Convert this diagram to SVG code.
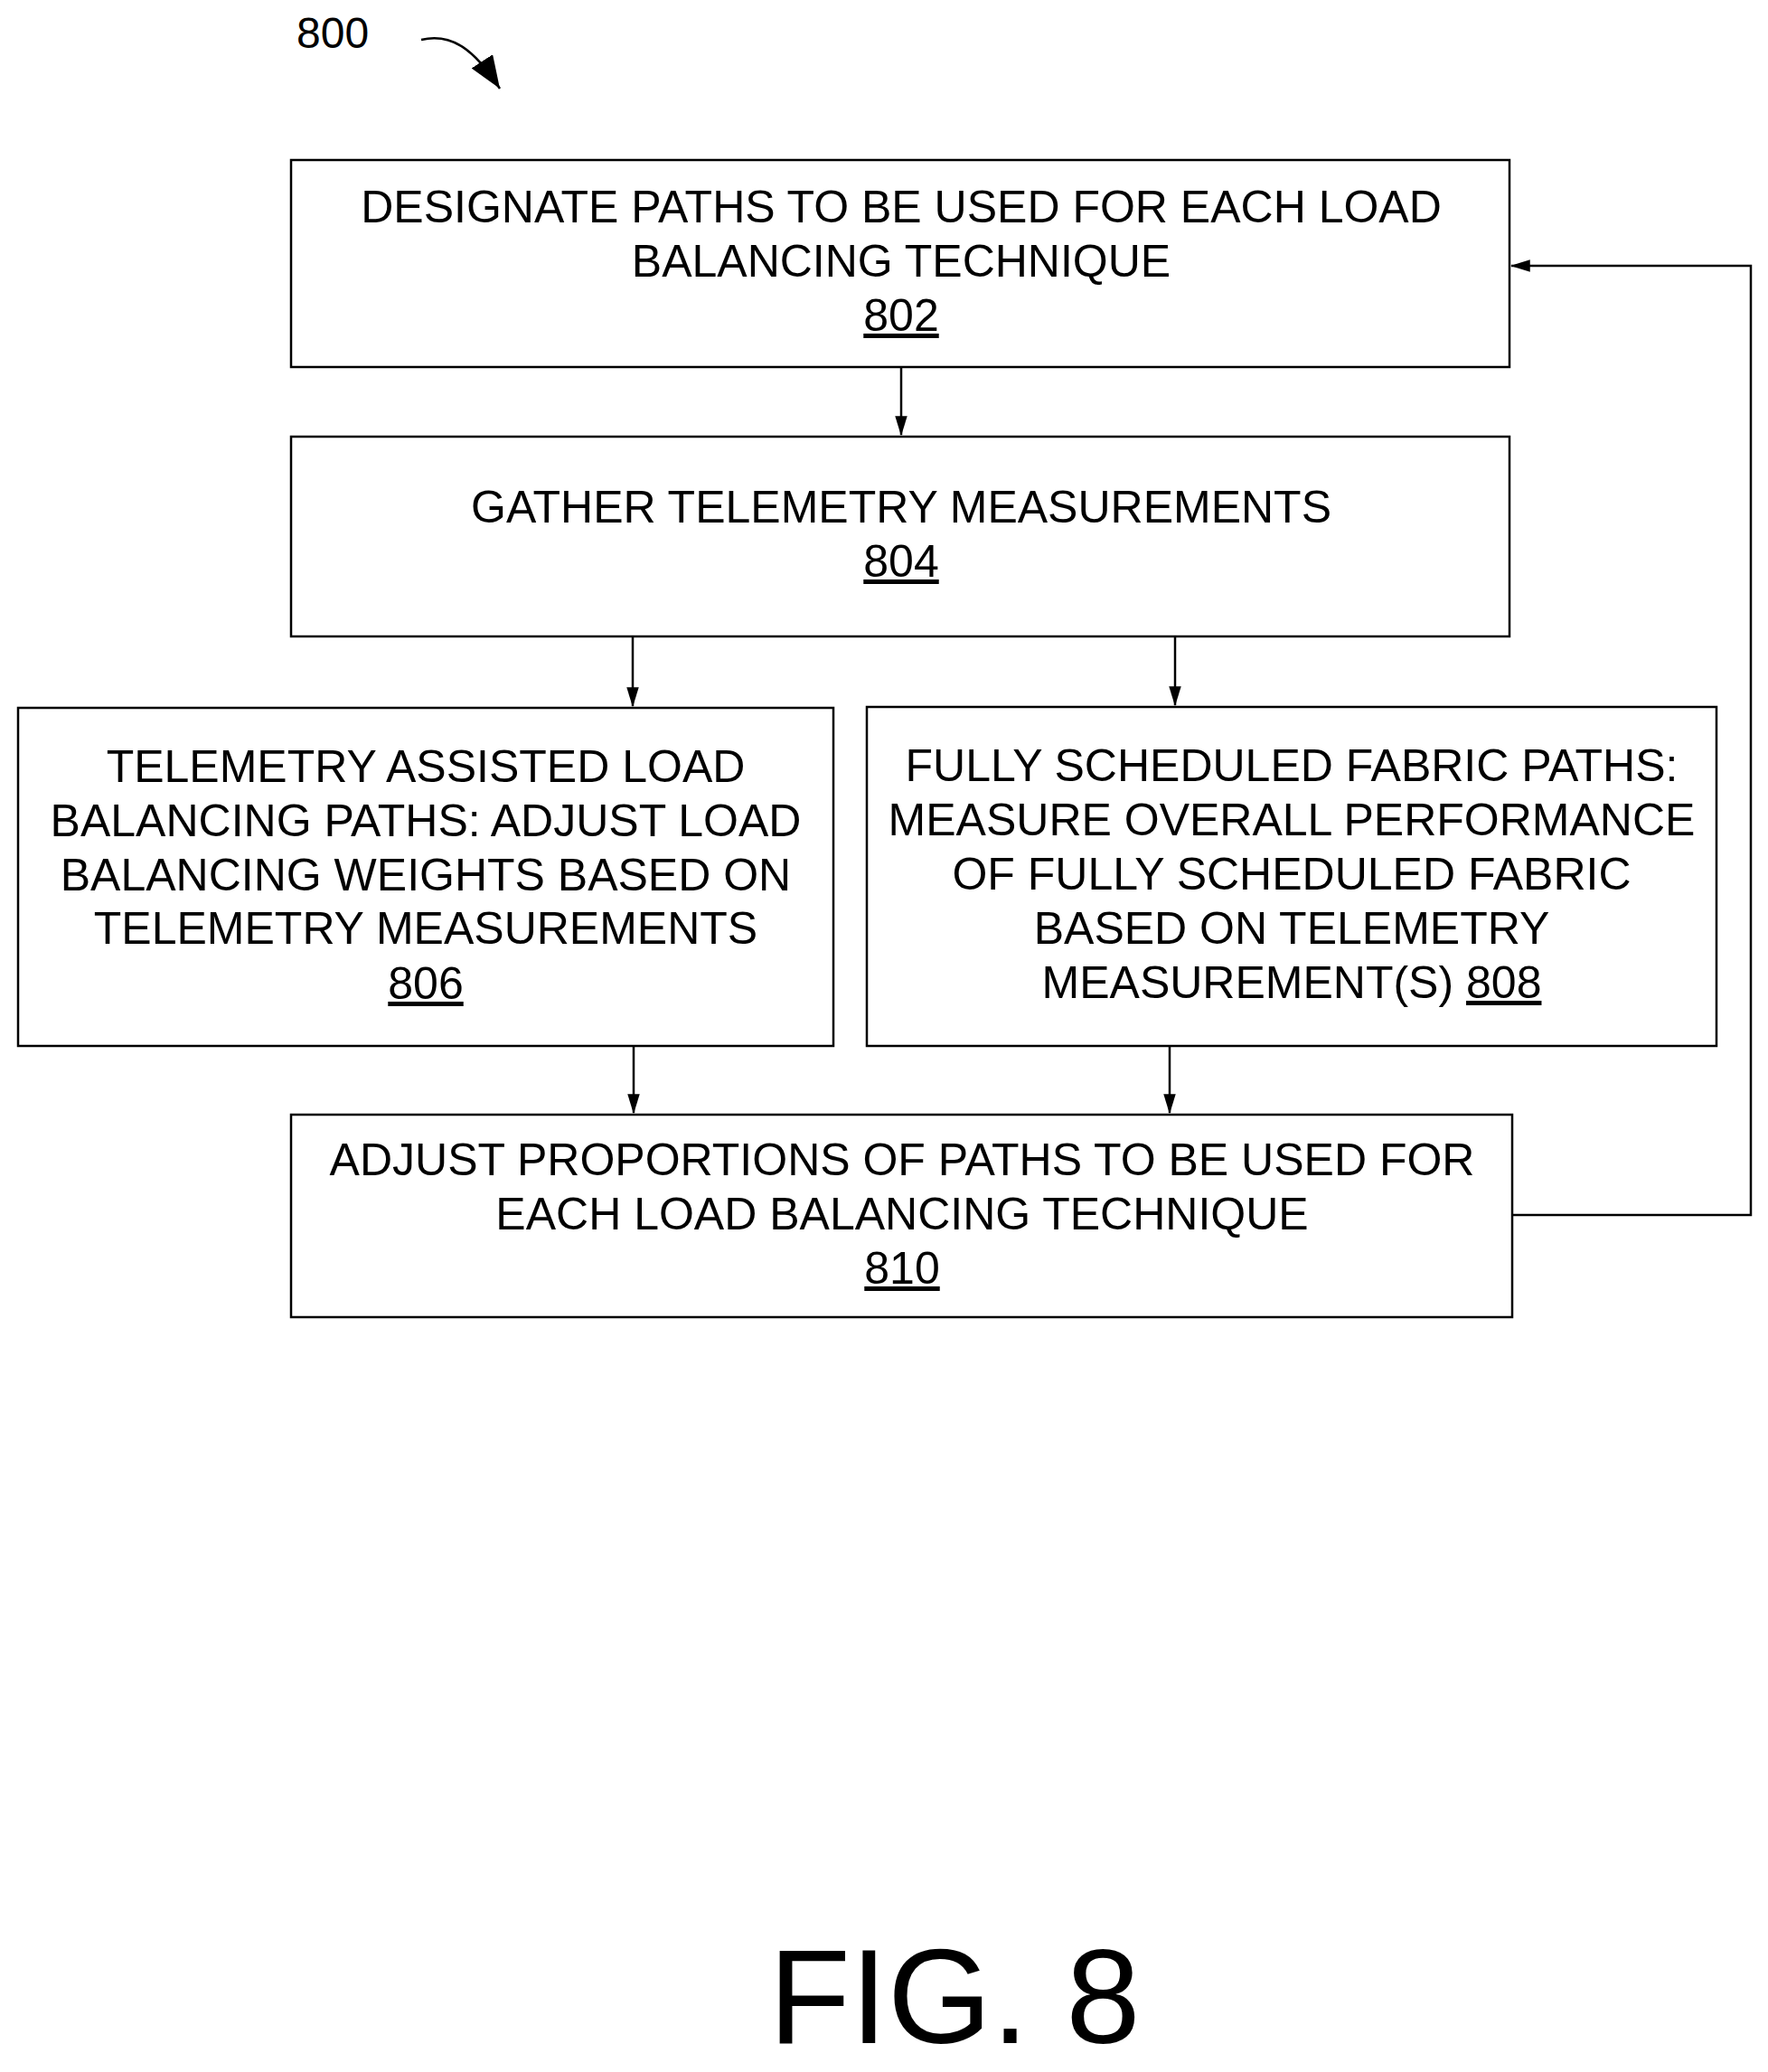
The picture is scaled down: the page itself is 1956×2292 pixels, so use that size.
<svg xmlns="http://www.w3.org/2000/svg" width="1956" height="2292" viewBox="0 0 1956 2292">
<style>
.b{fill:#fff;stroke:#000;stroke-width:2.5}
.t{font-family:"Liberation Sans",Arial,sans-serif;font-size:50px;text-anchor:middle;fill:#000}
.c{fill:none;stroke:#000;stroke-width:2.5}
</style>
<defs><marker id="a" markerWidth="22" markerHeight="36" refX="34" refY="11" orient="auto" markerUnits="userSpaceOnUse" viewBox="0 0 36 22"><path d="M0,0 L36,11 L0,22 z" fill="#000"/></marker>
<marker id="ah" markerWidth="36" markerHeight="28" refX="36" refY="14" orient="auto" markerUnits="userSpaceOnUse"><path d="M0,0 L36,14 L0,28 z" fill="#000"/></marker></defs>
<rect width="1956" height="2292" fill="#fff"/>
<text x="328" y="53" font-family="Liberation Sans,Arial,sans-serif" font-size="48">800</text>
<path d="M466,44 C500,36 525,55 553,98" class="c" marker-end="url(#ah)"/>
<g id="n802"><rect class="b" x="322" y="177" width="1348" height="229"/>
<text class="t" x="997" y="246">DESIGNATE PATHS TO BE USED FOR EACH LOAD</text>
<text class="t" x="997" y="306">BALANCING TECHNIQUE</text>
<text class="t" x="997" y="366" text-decoration="underline">802</text></g>
<g id="n804"><rect class="b" x="322" y="483" width="1348" height="221"/>
<text class="t" x="997" y="578">GATHER TELEMETRY MEASUREMENTS</text>
<text class="t" x="997" y="638" text-decoration="underline">804</text></g>
<g id="n806"><rect class="b" x="20" y="783" width="902" height="374"/>
<text class="t" x="471" y="865">TELEMETRY ASSISTED LOAD</text>
<text class="t" x="471" y="925">BALANCING PATHS: ADJUST LOAD</text>
<text class="t" x="471" y="985">BALANCING WEIGHTS BASED ON</text>
<text class="t" x="471" y="1044">TELEMETRY MEASUREMENTS</text>
<text class="t" x="471" y="1105" text-decoration="underline">806</text></g>
<g id="n808"><rect class="b" x="959" y="782" width="940" height="375"/>
<text class="t" x="1429" y="864">FULLY SCHEDULED FABRIC PATHS:</text>
<text class="t" x="1429" y="924">MEASURE OVERALL PERFORMANCE</text>
<text class="t" x="1429" y="984">OF FULLY SCHEDULED FABRIC</text>
<text class="t" x="1429" y="1044">BASED ON TELEMETRY</text>
<text class="t" x="1429" y="1104">MEASUREMENT(S) <tspan text-decoration="underline">808</tspan></text></g>
<g id="n810"><rect class="b" x="322" y="1233" width="1351" height="224"/>
<text class="t" x="998" y="1300">ADJUST PROPORTIONS OF PATHS TO BE USED FOR</text>
<text class="t" x="998" y="1360">EACH LOAD BALANCING TECHNIQUE</text>
<text class="t" x="998" y="1420" text-decoration="underline">810</text></g>
<g id="connectors" class="c">
<path d="M997,406 V481" style="marker-end:url(#a)"/>
<path d="M700,704 V781" style="marker-end:url(#a)"/>
<path d="M1300,704 V780" style="marker-end:url(#a)"/>
<path d="M701,1157 V1231" style="marker-end:url(#a)"/>
<path d="M1294,1157 V1231" style="marker-end:url(#a)"/>
<path d="M1673,1344 H1937 V294 H1672" style="marker-end:url(#a)"/>
</g>
<text x="1056" y="2260" font-family="Liberation Sans,Arial,sans-serif" font-size="148" text-anchor="middle">FIG. 8</text>
</svg>
